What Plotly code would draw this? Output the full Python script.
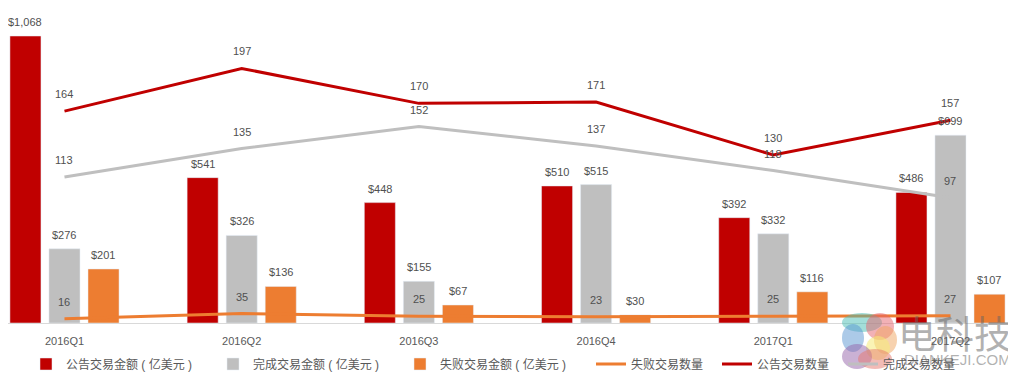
import plotly.graph_objects as go

categories = ["2016Q1", "2016Q2", "2016Q3", "2016Q4", "2017Q1", "2017Q2"]
announced_amount = [1068, 541, 448, 510, 392, 486]
completed_amount = [276, 326, 155, 515, 332, 699]
failed_amount = [201, 136, 67, 30, 116, 107]
failed_count = [16, 35, 25, 23, 25, 27]
announced_count = [164, 197, 170, 171, 130, 157]
completed_count = [113, 135, 152, 137, 118, 97]

RED = "#C00000"
GRAY = "#BFBFBF"
ORANGE = "#ED7D31"
TXT = "#505050"
FONT = "Liberation Sans, Noto Sans CJK SC, sans-serif"

W, H = 1008, 367          # page has 8px body margin
PLOT_H = 315              # plot area height in px (page y 8 .. 323)


def px(xpage):
    return (xpage - 8) / W


def py(ypage):
    return (323 - ypage) / PLOT_H


fig = go.Figure()
fig.add_trace(go.Bar(x=categories, y=announced_amount, name="公告交易金额 ( 亿美元 )",
                     marker_color=RED, yaxis="y", legend="legend"))
fig.add_trace(go.Bar(x=categories, y=completed_amount, name="完成交易金额 ( 亿美元 )",
                     marker_color=GRAY, yaxis="y", legend="legend"))
fig.add_trace(go.Bar(x=categories, y=failed_amount, name="失败交易金额 ( 亿美元 )",
                     marker_color=ORANGE, yaxis="y", legend="legend"))
fig.add_trace(go.Scatter(x=categories, y=failed_count, name="失败交易数量", mode="lines",
                         line=dict(color=ORANGE, width=3), yaxis="y", legend="legend2"))
fig.add_trace(go.Scatter(x=categories, y=announced_count, name="公告交易数量", mode="lines",
                         line=dict(color=RED, width=3), yaxis="y2", legend="legend2"))
fig.add_trace(go.Scatter(x=categories, y=completed_count, name="完成交易数量", mode="lines",
                         line=dict(color=GRAY, width=3), yaxis="y2", legend="legend2"))

annotations = []
for series, shift in ((announced_amount, -39), (completed_amount, 0), (failed_amount, 39)):
    for c, v in zip(categories, series):
        annotations.append(dict(x=c, y=v, xref="x", yref="y", text=f"${v:,}", showarrow=False,
                                xshift=shift, yshift=14, yanchor="middle",
                                font=dict(size=11, color=TXT, family=FONT)))
for series, yref in ((failed_count, "y"), (announced_count, "y2"), (completed_count, "y2")):
    for c, v in zip(categories, series):
        annotations.append(dict(x=c, y=v, xref="x", yref=yref, text=str(v), showarrow=False,
                                yshift=17, yanchor="middle",
                                font=dict(size=11, color=TXT, family=FONT)))

# watermark text
annotations.append(dict(x=px(954.5), y=py(331), xref="paper", yref="paper", text="电科技",
                        showarrow=False, xanchor="center", yanchor="middle",
                        font=dict(size=38, color="rgba(100,100,100,0.5)", family="Noto Sans CJK SC")))
annotations.append(dict(x=px(957), y=py(359), xref="paper", yref="paper", text="DIANKEJI.COM",
                        showarrow=False, xanchor="center", yanchor="middle",
                        font=dict(size=15, color="rgba(100,100,100,0.5)", family=FONT)))

# watermark logo (rough decorative blobs)
logo = [
    (842, 313, 882, 332, "rgba(72,190,180,0.5)"),
    (866, 313, 894, 340, "rgba(230,100,110,0.5)"),
    (874, 326, 897, 354, "rgba(240,165,95,0.5)"),
    (866, 336, 890, 360, "rgba(245,235,120,0.55)"),
    (842, 324, 864, 352, "rgba(90,150,210,0.5)"),
    (842, 344, 872, 369, "rgba(150,100,170,0.5)"),
    (858, 349, 892, 369, "rgba(230,120,110,0.5)"),
]
shapes = [dict(type="circle", xref="paper", yref="paper", x0=px(a), x1=px(c), y0=py(d), y1=py(b),
               fillcolor=col, line=dict(width=0), layer="above") for a, b, c, d, col in logo]

fig.update_layout(
    width=W, height=H,
    margin=dict(l=0, r=0, t=0, b=H - PLOT_H, autoexpand=False),
    paper_bgcolor="white", plot_bgcolor="white",
    barmode="group", bargap=0.339, bargroupgap=0.205,
    font=dict(family=FONT, size=12, color=TXT),
    showlegend=True,
    legend=dict(orientation="h", x=px(26), y=py(364), xanchor="left", yanchor="middle",
                font=dict(size=12, color="#595959"), traceorder="normal",
                entrywidth=142, entrywidthmode="pixels", bgcolor="rgba(0,0,0,0)"),
    legend2=dict(orientation="h", x=px(591), y=py(364), xanchor="left", yanchor="middle",
                 font=dict(size=12, color="#595959"), traceorder="normal",
                 entrywidth=81, entrywidthmode="pixels", bgcolor="rgba(0,0,0,0)"),
    xaxis=dict(range=[-0.3188, 5.3697], showgrid=False, showline=True, linecolor="#D9D9D9",
               linewidth=1, ticks="", ticklabelstandoff=8, automargin=False,
               tickfont=dict(size=11, color="#595959"), zeroline=False),
    yaxis=dict(range=[0, PLOT_H / 0.2687], visible=False, showgrid=False, zeroline=False),
    yaxis2=dict(range=[0, PLOT_H / 1.292], overlaying="y", side="right", visible=False,
                showgrid=False, zeroline=False),
    annotations=annotations,
    shapes=shapes,
)

fig.write_html("out.html")
